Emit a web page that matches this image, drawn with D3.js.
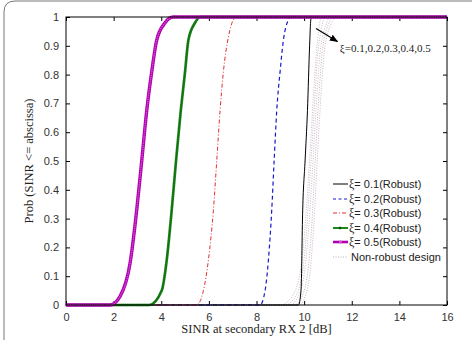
<!DOCTYPE html>
<html><head><meta charset="utf-8">
<script src="https://cdn.jsdelivr.net/npm/d3@7"></script>
<style>html,body{margin:0;padding:0;background:#fff;}svg{display:block;}</style>
</head><body><div id="chart"></div>
<script>
// ---- data ----
const xTicks = [0,2,4,6,8,10,12,14,16];
const yTicks = [0,0.1,0.2,0.3,0.4,0.5,0.6,0.7,0.8,0.9,1];
const yTickLabels = ["0","0.1","0.2","0.3","0.4","0.5","0.6","0.7","0.8","0.9","1"];

const xi01X = [0,9.76,9.87,9.94,10.04,10.14,10.23,10.28,10.32,16];
const xi01P = [0,0,0.05,0.33,0.5,0.675,0.9,0.99,1,1];
const xi02X = [0,8.15,8.36,8.5,8.64,8.74,8.85,8.99,9.13,9.34,9.45,16];
const xi02P = [0,0,0.05,0.156,0.33,0.5,0.675,0.81,0.92,0.99,1,1];
const xi03X = [0,5.49,5.77,5.98,6.19,6.33,6.47,6.61,6.82,7.03,7.2,16];
const xi03P = [0,0,0.05,0.156,0.33,0.5,0.675,0.81,0.93,0.99,1,1];
const xi04X = [0,3.5,4.02,4.23,4.44,4.62,4.82,5.0,5.14,5.42,5.63,16];
const xi04P = [0,0,0.05,0.156,0.33,0.5,0.675,0.81,0.92,0.98,1,1];
const xi05X = [0,1.85,2.27,2.69,2.97,3.18,3.39,3.6,3.81,4.16,4.5,16];
const xi05P = [0,0,0.03,0.145,0.33,0.5,0.675,0.81,0.92,0.98,1,1];

const nr1X = [0,9.0,9.5,9.9,10.15,10.3,10.45,10.6,10.75,16];
const nr1P = [0,0,0.03,0.15,0.4,0.6,0.8,0.95,1,1];
const nr2X = [0,9.2,9.7,10.05,10.25,10.4,10.55,10.75,10.9,16];
const nr2P = [0,0,0.04,0.2,0.45,0.65,0.85,0.97,1,1];
const nr3X = [0,9.4,9.85,10.15,10.35,10.5,10.65,10.9,11.1,16];
const nr3P = [0,0,0.05,0.22,0.47,0.68,0.86,0.97,1,1];
const nr4X = [0,9.6,10.0,10.3,10.45,10.6,10.75,11.0,11.25,16];
const nr4P = [0,0,0.05,0.25,0.48,0.7,0.87,0.97,1,1];
const nr5X = [0,9.8,10.15,10.4,10.55,10.7,10.85,11.1,11.4,16];
const nr5P = [0,0,0.06,0.27,0.5,0.72,0.88,0.97,1,1];

const legendLabels = ["0.1(Robust)","0.2(Robust)","0.3(Robust)","0.4(Robust)","0.5(Robust)","Non-robust design"];
const annotationText = "ξ=0.1,0.2,0.3,0.4,0.5";

// ---- drawing ----
const W = 472, H = 340;
const L = 66, R = 447, T = 17, B = 305;
const svg = d3.select("#chart").append("svg").attr("width", W).attr("height", H);

// outer frame
svg.append("path").attr("d", "M4,340 V12 Q4,1 15,1 H472")
  .attr("fill","none").attr("stroke","#777").attr("stroke-width",1);

const x = d3.scaleLinear().domain([0,16]).range([L,R]);
const y = d3.scaleLinear().domain([0,1]).range([B,T]);

const sans = "'Liberation Sans', Arial, Helvetica, sans-serif";
const serif = "'Liberation Serif', 'Times New Roman', serif";

// axes with inner ticks
const gx = svg.append("g").attr("transform",`translate(0,${B})`)
  .call(d3.axisBottom(x).tickValues(xTicks).tickSizeInner(-4).tickSizeOuter(0).tickPadding(8).tickFormat(d3.format("d")));
const gxt = svg.append("g").attr("transform",`translate(0,${T})`)
  .call(d3.axisTop(x).tickValues(xTicks).tickSizeInner(-4).tickSizeOuter(0).tickFormat(""));
const gy = svg.append("g").attr("transform",`translate(${L},0)`)
  .call(d3.axisLeft(y).tickValues(yTicks).tickSizeInner(-4).tickSizeOuter(0).tickPadding(7).tickFormat((d,i)=>yTickLabels[i]));
const gyr = svg.append("g").attr("transform",`translate(${R},0)`)
  .call(d3.axisRight(y).tickValues(yTicks).tickSizeInner(-4).tickSizeOuter(0).tickFormat(""));
[gx,gxt,gy,gyr].forEach(g=>{
  g.select(".domain").remove();
  g.selectAll(".tick line").attr("stroke","#000");
  g.selectAll("text").attr("font-family",sans).attr("font-size",11).attr("fill","#333");
});

const line = d3.line().x(d=>x(d[0])).y(d=>y(d[1])).curve(d3.curveMonotoneX);
const zip = (a,b)=>a.map((v,i)=>[v,b[i]]);

const plot = svg.append("g");
const nrColors = ["#c8b0c0","#b8b8c8","#d0b0b8","#b0b0b0","#c8a8c8"];
[[nr1X,nr1P],[nr2X,nr2P],[nr3X,nr3P],[nr4X,nr4P],[nr5X,nr5P]].forEach((s,i)=>{
  plot.append("path").attr("d",line(zip(s[0],s[1]))).attr("fill","none")
    .attr("stroke",nrColors[i]).attr("stroke-width",0.9).attr("stroke-dasharray","1,1.5");
});

const series = [
  {xs:xi01X, ps:xi01P, color:"#000", w:1, dash:null},
  {xs:xi02X, ps:xi02P, color:"#1818c8", w:1.2, dash:"4,3"},
  {xs:xi03X, ps:xi03P, color:"#e03030", w:1, dash:"4,2,1,2"},
  {xs:xi04X, ps:xi04P, color:"#1a8c1a", w:2.6, dash:null, marker:"plus"},
  {xs:xi05X, ps:xi05P, color:"#b000b0", w:3.4, dash:null, marker:"dot"},
];
series.forEach(s=>{
  const p = plot.append("path").attr("d",line(zip(s.xs,s.ps))).attr("fill","none")
    .attr("stroke",s.color).attr("stroke-width",s.w).attr("stroke-linejoin","round");
  if (s.dash) p.attr("stroke-dasharray",s.dash);
  if (s.marker) {
    const node = p.node(), len = node.getTotalLength();
    const mg = plot.append("g");
    for (let l=0; l<len; l+=2.2) {
      const pt = node.getPointAtLength(l);
      if (s.marker==="plus") {
        mg.append("path").attr("d",`M${pt.x-1.6},${pt.y}H${pt.x+1.6}M${pt.x},${pt.y-1.6}V${pt.y+1.6}`)
          .attr("stroke","#004000").attr("stroke-width",0.5).attr("opacity",0.45);
      } else {
        mg.append("circle").attr("cx",pt.x).attr("cy",pt.y).attr("r",0.8).attr("fill","#d050d0");
      }
    }
  }
});

// axes box
svg.append("rect").attr("x",L).attr("y",T).attr("width",R-L).attr("height",B-T)
  .attr("fill","none").attr("stroke","#000").attr("stroke-width",1);

// axis labels
svg.append("text").attr("x",(L+R)/2).attr("y",333).attr("text-anchor","middle")
  .attr("font-family",serif).attr("font-size",12.5).attr("fill","#222").text("SINR at secondary RX 2 [dB]");
svg.append("text").attr("transform",`translate(33,${(T+B)/2}) rotate(-90)`).attr("text-anchor","middle")
  .attr("font-family",serif).attr("font-size",12.5).attr("fill","#222").text("Prob (SINR <= abscissa)");

// annotation
svg.append("defs").append("marker").attr("id","arr").attr("viewBox","0 0 10 10").attr("refX",9).attr("refY",5)
  .attr("markerWidth",7).attr("markerHeight",7).attr("orient","auto")
  .append("path").attr("d","M0,1 L10,5 L0,9 z").attr("fill","#000");
svg.append("line").attr("x1",x(10.5)).attr("y1",y(0.96)).attr("x2",x(11.4)).attr("y2",y(0.915))
  .attr("stroke","#000").attr("stroke-width",1.2).attr("marker-end","url(#arr)");
svg.append("text").attr("x",x(11.5)).attr("y",y(0.88)).attr("font-family",serif).attr("font-size",11)
  .attr("fill","#222").text(annotationText);

// legend
const lg = svg.append("g");
const rowY = [184,199,213,228,242,257];
const legStyles = [
  {color:"#000", w:1, dash:null},
  {color:"#1818c8", w:1.2, dash:"3,2.5"},
  {color:"#e03030", w:1, dash:"4,2,1,2"},
  {color:"#1a8c1a", w:2, dash:null, m:"plus"},
  {color:"#b000b0", w:2.6, dash:null, m:"dot"},
  {color:"#aaa", w:0.9, dash:"1,1.5"},
];
legendLabels.forEach((lab,i)=>{
  const st = legStyles[i];
  const ln = lg.append("line").attr("x1",333).attr("x2",348).attr("y1",rowY[i]).attr("y2",rowY[i])
    .attr("stroke",st.color).attr("stroke-width",st.w);
  if (st.dash) ln.attr("stroke-dasharray",st.dash);
  if (st.m==="plus") lg.append("path").attr("d",`M338.5,${rowY[i]}h3M340,${rowY[i]-1.5}v3`).attr("stroke","#004000").attr("stroke-width",0.8);
  if (st.m==="dot") lg.append("circle").attr("cx",340.5).attr("cy",rowY[i]).attr("r",1.5).attr("fill","#d050d0");
  const t = lg.append("text").attr("y",rowY[i]+4).attr("font-family",sans).attr("font-size",11).attr("fill","#222");
  if (i<5) {
    t.attr("x",349);
    t.append("tspan").attr("font-family",serif).attr("font-size",12).text("ξ");
    t.append("tspan").text("= "+lab);
  } else {
    t.attr("x",351).text(lab);
  }
});
</script></body></html>
